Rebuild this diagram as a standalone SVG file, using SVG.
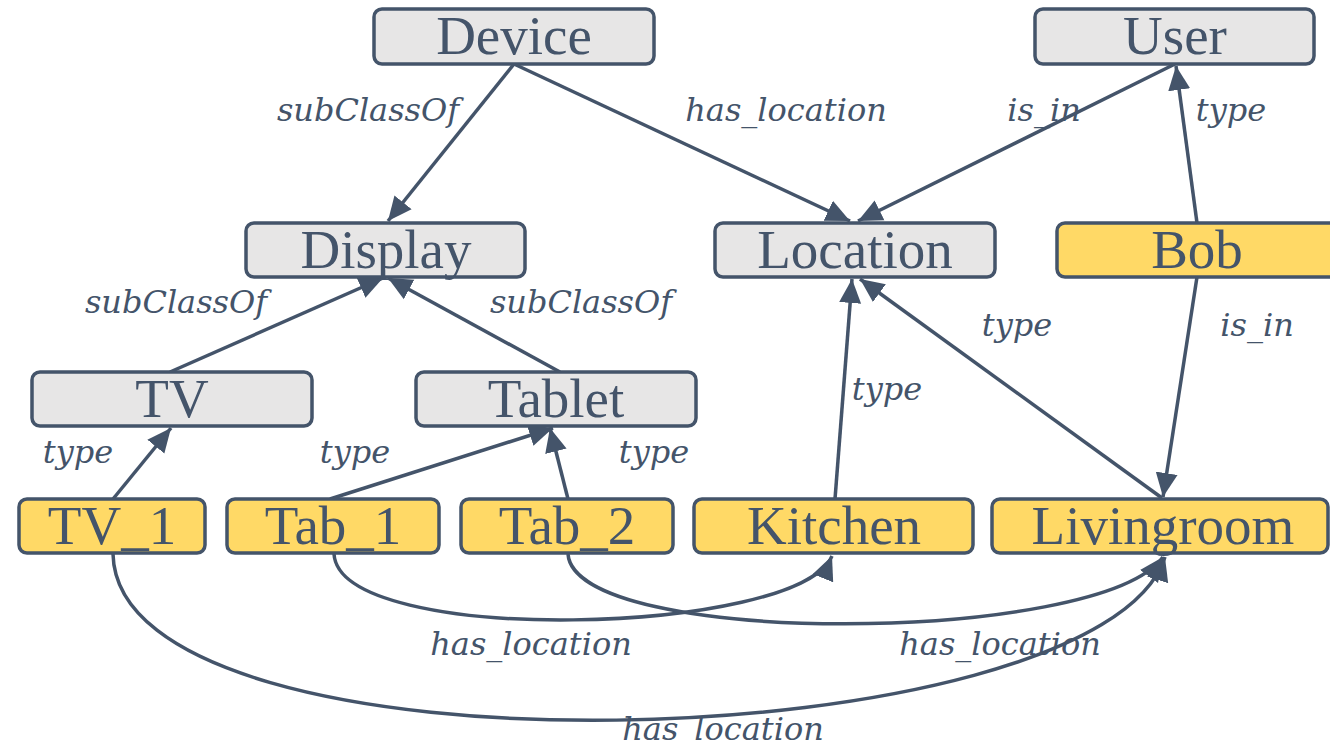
<svg xmlns="http://www.w3.org/2000/svg" width="1330" height="746" viewBox="0 0 1330 746">
<defs>
<marker id="ah" markerUnits="userSpaceOnUse" markerWidth="26" markerHeight="24" viewBox="0 0 26 24" refX="24" refY="12" orient="auto">
<path d="M0,1 L24,12 L0,23 Z" fill="#44546a"/>
</marker>
</defs>
<style>
.cls rect{fill:#e7e6e6;stroke:#44546a;stroke-width:3.5}
.ind rect{fill:#ffd966;stroke:#44546a;stroke-width:3.5}
.nt{font-family:"Liberation Serif","DejaVu Serif",serif;font-size:55px;fill:#44546a;text-anchor:middle}
.lb{font-family:"DejaVu Serif","Liberation Serif",serif;font-style:italic;font-size:32px;fill:#44546a;text-anchor:middle}
.e{fill:none;stroke:#44546a;stroke-width:3.5;marker-end:url(#ah)}
</style>
<rect width="1330" height="746" fill="#ffffff"/>
<g id="connectors">
<path class="e" d="M514,64 L388,221"/>
<path class="e" d="M514,64 L850,221"/>
<path class="e" d="M1175,64 L858,221"/>
<path class="e" d="M1197,223 L1176,66"/>
<path class="e" d="M1197,277 L1163,497"/>
<path class="e" d="M170,372 L383,278"/>
<path class="e" d="M560,372 L388,278"/>
<path class="e" d="M113,499 L171,428"/>
<path class="e" d="M330,499 L553,428"/>
<path class="e" d="M568,499 L550,428"/>
<path class="e" d="M835,499 L852,279"/>
<path class="e" d="M1162,498 L860,279"/>
<path class="e" d="M113,554 C118,790 1100,760 1165,557"/>
<path class="e" d="M334,554 C340,648 800,635 832,556"/>
<path class="e" d="M568,554 C575,648 1100,645 1163,557"/>
</g>
<g id="edge-labels">
<text class="lb" x="368" y="121">subClassOf</text>
<text class="lb" x="786" y="121">has_location</text>
<text class="lb" x="1044" y="121">is_in</text>
<text class="lb" x="1231" y="121">type</text>
<text class="lb" x="176" y="313">subClassOf</text>
<text class="lb" x="581" y="313">subClassOf</text>
<text class="lb" x="1017" y="336">type</text>
<text class="lb" x="1257" y="336">is_in</text>
<text class="lb" x="887" y="400">type</text>
<text class="lb" x="78" y="463">type</text>
<text class="lb" x="355" y="463">type</text>
<text class="lb" x="654" y="463">type</text>
<text class="lb" x="531" y="655">has_location</text>
<text class="lb" x="1000" y="655">has_location</text>
<text class="lb" x="723" y="740">has_location</text>
</g>
<g id="node-device" class="cls"><rect x="374" y="9" width="280" height="55" rx="8"/><text class="nt" x="514" y="54">Device</text></g>
<g id="node-user" class="cls"><rect x="1035" y="9" width="279" height="55" rx="8"/><text class="nt" x="1175" y="54">User</text></g>
<g id="node-display" class="cls"><rect x="246" y="223" width="279" height="54" rx="8"/><text class="nt" x="386" y="268">Display</text></g>
<g id="node-location" class="cls"><rect x="715" y="223" width="280" height="54" rx="8"/><text class="nt" x="855" y="268">Location</text></g>
<g id="node-bob" class="ind"><rect x="1057" y="223" width="280" height="54" rx="8"/><text class="nt" x="1197" y="268">Bob</text></g>
<g id="node-tv" class="cls"><rect x="32" y="372" width="280" height="54" rx="8"/><text class="nt" x="172" y="417">TV</text></g>
<g id="node-tablet" class="cls"><rect x="416" y="372" width="280" height="54" rx="8"/><text class="nt" x="556" y="417">Tablet</text></g>
<g id="node-tv1" class="ind"><rect x="19" y="499" width="186" height="54" rx="8"/><text class="nt" x="112" y="544">TV_1</text></g>
<g id="node-tab1" class="ind"><rect x="227" y="499" width="212" height="54" rx="8"/><text class="nt" x="333" y="544">Tab_1</text></g>
<g id="node-tab2" class="ind"><rect x="461" y="499" width="212" height="54" rx="8"/><text class="nt" x="567" y="544">Tab_2</text></g>
<g id="node-kitchen" class="ind"><rect x="694" y="499" width="279" height="54" rx="8"/><text class="nt" x="834" y="544">Kitchen</text></g>
<g id="node-livingroom" class="ind"><rect x="992" y="499" width="336" height="54" rx="8"/><text class="nt" x="1163" y="544">Livingroom</text></g>
</svg>
